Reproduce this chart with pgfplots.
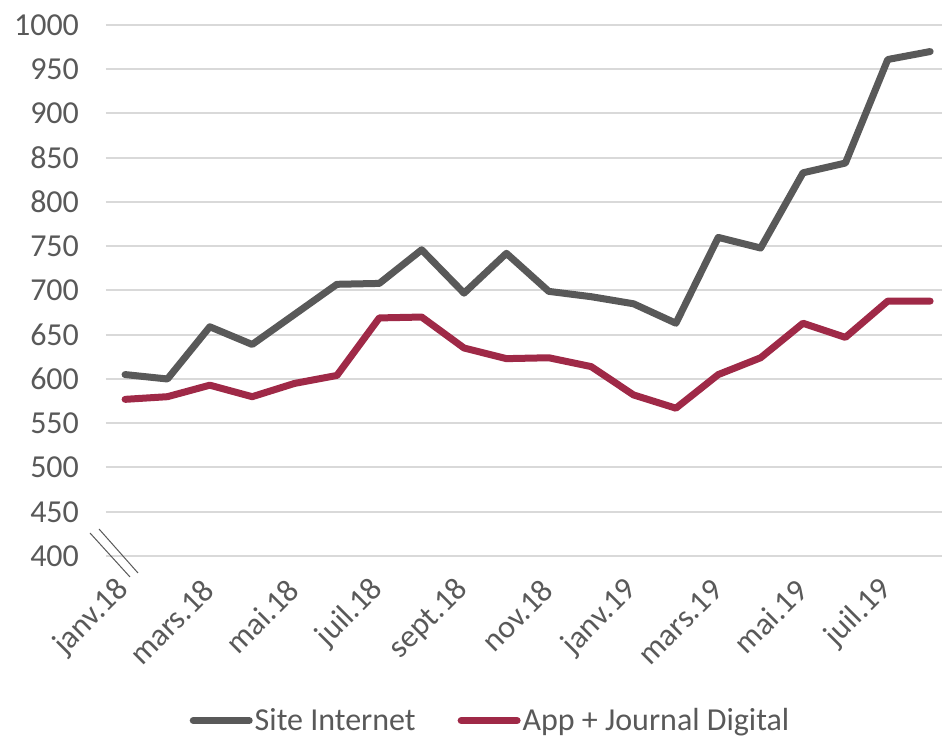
\documentclass[border=0pt]{standalone}
\usepackage{fontspec}
\setmainfont{Carlito}
\usepackage{pgfplots}
\usepackage{pgfplotstable}
\pgfplotsset{compat=1.18}
\usetikzlibrary{calc}

\definecolor{siteGray}{HTML}{595959}
\definecolor{appRed}{HTML}{9F2947}
\definecolor{gridGray}{HTML}{D9D9D9}
\definecolor{textGray}{HTML}{595959}

% month index (0 = janv.18), site internet, app + journal digital
\pgfplotstableread{
m  site  app
0  605   577
1  600   580
2  659   593
3  639   580
4  673   595
5  707   604
6  708   669
7  746   670
8  697   635
9  742   623
10 699   624
11 693   614
12 685   582
13 663   567
14 760   605
15 748   624
16 833   663
17 844   647
18 961   688
19 970   688
}\visites

\begin{document}
\begin{tikzpicture}
\begin{axis}[
    name=ax,
    scale only axis,
    width=418pt, height=265.5pt,
    xmin=-0.45, xmax=19.28,
    ymin=400, ymax=1000,
    ytick={400,450,...,1000},
    xtick={0,2,...,18},
    xticklabels={janv.18,mars.18,mai.18,juil.18,sept.18,nov.18,janv.19,mars.19,mai.19,juil.19},
    axis line style={draw=none},
    major tick length=0pt,
    ymajorgrids,
    grid style={gridGray, line width=1pt},
    font=\fontsize{16}{19}\selectfont,
    /pgf/number format/assume math mode=true,
    /pgf/number format/1000 sep={},
    tick label style={text=textGray},
    yticklabel style={anchor=east, xshift=-10pt},
    xticklabel style={xshift=2pt, yshift=-12pt, rotate=45, anchor=east},
    legend columns=2,
    legend style={at={(0.46,-0.31)}, anchor=center, draw=none, fill=none,
        font=\fontsize{16}{19}\selectfont, text=textGray,
        /tikz/every even column/.append style={column sep=20pt},
        nodes={inner sep=1pt}},
    legend image code/.code={\draw[#1] (0pt,0pt) -- (28pt,0pt);},
    every axis plot/.append style={line width=3.5pt, line join=round, line cap=round},
]
\addplot[siteGray] table[x=m, y=site] {\visites};
\addlegendentry{Site Internet}
\addplot[appRed] table[x=m, y=app] {\visites};
\addlegendentry{App + Journal Digital}
\end{axis}
% axis break marks
\draw[siteGray, line width=0.5pt] ($(ax.south west)+(-8pt,11.5pt)$) -- ($(ax.south west)+(12pt,-10.5pt)$);
\draw[siteGray, line width=0.5pt] ($(ax.south west)+(-3.5pt,13.5pt)$) -- ($(ax.south west)+(16pt,-8.5pt)$);
\pgfresetboundingbox
\path[use as bounding box] ($(ax.south west)+(-53pt,-90pt)$) rectangle ($(ax.north east)+(0pt,12.5pt)$);
\end{tikzpicture}
\end{document}
